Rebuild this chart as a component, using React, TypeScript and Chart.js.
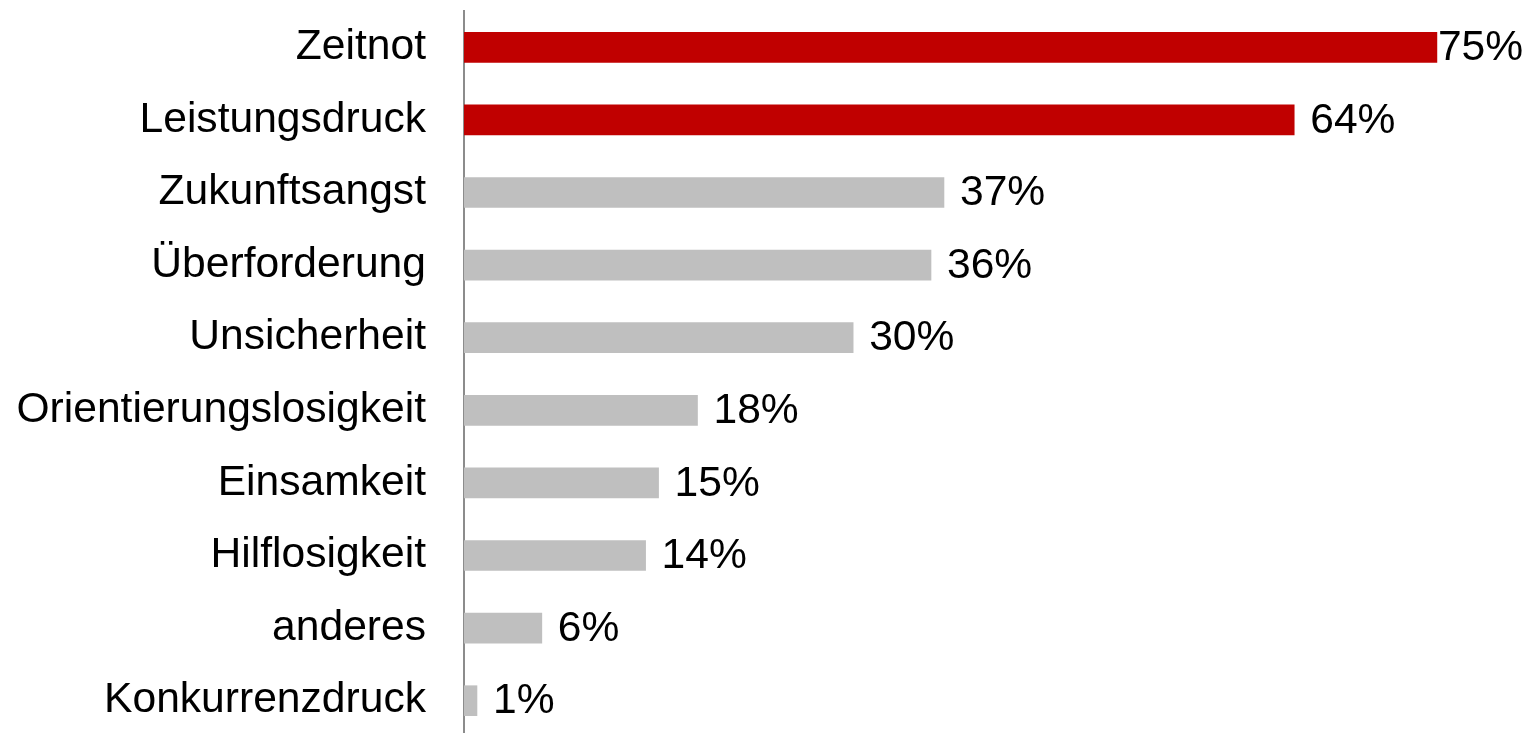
import React, { useEffect, useRef } from "react";
import { Chart, registerables } from "chart.js";

Chart.register(...registerables);

const categories = [
  "Zeitnot",
  "Leistungsdruck",
  "Zukunftsangst",
  "Überforderung",
  "Unsicherheit",
  "Orientierungslosigkeit",
  "Einsamkeit",
  "Hilflosigkeit",
  "anderes",
  "Konkurrenzdruck",
];
const values = [75, 64, 37, 36, 30, 18, 15, 14, 6, 1];
const highlighted = [true, true, false, false, false, false, false, false, false, false];

const RED = "#C00000";
const GRAY = "#BFBFBF";
const FONT = "'Liberation Sans', Arial, sans-serif";
const FONT_SIZE = 42.6;

const valueLabels = {
  id: "valueLabels",
  afterDatasetsDraw(chart: any) {
    const ctx = chart.ctx;
    const meta = chart.getDatasetMeta(0);
    ctx.save();
    ctx.font = `${FONT_SIZE}px ${FONT}`;
    ctx.fillStyle = "#000";
    ctx.textBaseline = "middle";
    ctx.textAlign = "left";
    meta.data.forEach((bar: any, i: number) => {
      const txt = `${values[i]}%`;
      const w = ctx.measureText(txt).width;
      let x = bar.x + 16;
      if (x + w > chart.width - 8) x = Math.max(bar.x + 1, chart.width - 8 - w);
      ctx.fillText(txt, x, bar.y + 1);
    });
    ctx.restore();
  },
};

export default function App() {
  const ref = useRef<HTMLCanvasElement>(null);
  useEffect(() => {
    document.body.style.margin = "0";
    document.body.style.overflow = "hidden";
    const chart = new Chart(ref.current!, {
      type: "bar",
      data: {
        labels: categories,
        datasets: [
          {
            data: values,
            backgroundColor: highlighted.map((h) => (h ? RED : GRAY)),
            barThickness: 30,
          },
        ],
      },
      options: {
        indexAxis: "y",
        animation: false,
        responsive: false,
        layout: { padding: { top: 11, bottom: 3, left: 0, right: 0 } },
        plugins: { legend: { display: false }, tooltip: { enabled: false } },
        scales: {
          x: { display: false, min: 0, max: 82.1 },
          y: {
            afterFit(scale: any) {
              scale.width = 464;
              scale.paddingTop = 0;
              scale.paddingBottom = 0;
            },
            grid: { display: false, drawTicks: false },
            border: { display: true, color: "#8c8c8c", width: 2 },
            ticks: {
              padding: 38,
              color: "#000",
              font: { family: FONT, size: FONT_SIZE },
            },
          },
        },
      },
      plugins: [valueLabels],
    });
    return () => chart.destroy();
  }, []);
  return (
    <div style={{ position: "fixed", top: 0, left: 0, width: 1529, height: 733, overflow: "hidden", background: "#fff" }}>
      <canvas ref={ref} width={1529} height={740} style={{ width: 1529, height: 740, display: "block" }} />
    </div>
  );
}
